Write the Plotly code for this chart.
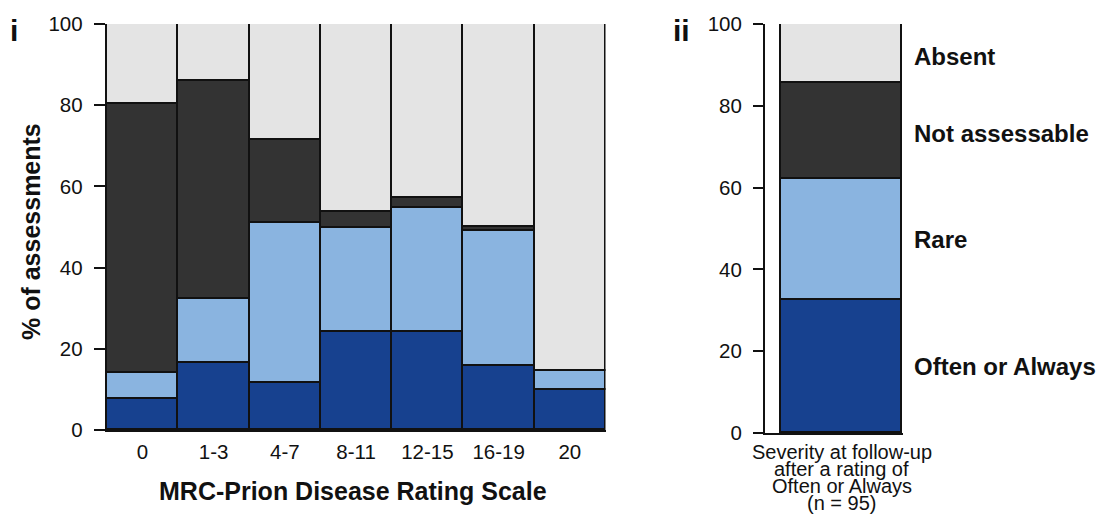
import plotly.graph_objects as go

W, H = 1099, 515

# ---- data ----
categories = ["0", "1-3", "4-7", "8-11", "12-15", "16-19", "20"]
often = [7.7, 16.4, 11.5, 24.2, 24.2, 15.8, 9.8]
rare = [6.3, 15.8, 39.6, 25.6, 30.5, 33.2, 4.7]
not_assessable = [66.3, 53.7, 20.3, 3.8, 2.4, 0.9, 0.0]
absent = [19.7, 14.1, 28.6, 46.4, 42.9, 50.1, 85.7]

series_names = ["Often or Always", "Rare", "Not assessable", "Absent"]
followup_values = [32.6, 29.6, 23.4, 14.4]   # same order as series_names
followup_label = ["Severity at follow-up", "after a rating of", "Often or Always", "(n = 95)"]
y_ticks = [0, 20, 40, 60, 80, 100]

colors = ["#17418f", "#8ab4e0", "#333333", "#e4e4e4"]
FONT = "Liberation Sans, Arial, sans-serif"
INK = "#111111"

def px_x(p):
    return p / W

def px_y(p):
    return (H - p) / H

fig = go.Figure()

left_series = [often, rare, not_assessable, absent]
for name, vals, col in zip(series_names, left_series, colors):
    fig.add_trace(go.Bar(
        x=categories, y=vals, name=name, marker_color=col,
        marker_line_color=INK, marker_line_width=1.6,
        xaxis="x", yaxis="y", showlegend=False,
    ))

for name, v, col in zip(series_names, followup_values, colors):
    fig.add_trace(go.Bar(
        x=[0], y=[v], width=1, name=name, marker_color=col,
        marker_line_color=INK, marker_line_width=1.6,
        xaxis="x2", yaxis="y2", showlegend=False,
    ))

axis_common = dict(showgrid=False, zeroline=False, linecolor=INK, linewidth=2,
                   automargin=False,
                   tickfont=dict(family=FONT, size=20.5, color=INK))

fig.update_layout(
    width=W, height=H,
    margin=dict(l=0, r=0, t=0, b=0, pad=0),
    paper_bgcolor="white", plot_bgcolor="white",
    barmode="stack", bargap=0,
    font=dict(family=FONT, color=INK),
    xaxis=dict(domain=[px_x(106.7), px_x(605.5)], range=[-0.5, 6.5],
               showline=True, ticks="", ticklabelstandoff=2, **axis_common),
    yaxis=dict(domain=[px_y(430), px_y(24)], range=[0, 100], tickvals=y_ticks,
               showline=True, ticks="outside", ticklen=11, tickwidth=2,
               tickcolor=INK, ticklabelstandoff=7, **axis_common),
    xaxis2=dict(domain=[px_x(765), px_x(903)], range=[-0.632, 0.508],
                showline=True, ticks="", showticklabels=False, anchor="y2", **axis_common),
    yaxis2=dict(domain=[px_y(433), px_y(24)], range=[0, 100], tickvals=y_ticks,
                showline=True, ticks="outside", ticklen=10, tickwidth=2,
                tickcolor=INK, ticklabelstandoff=7, anchor="x2", **axis_common),
)

def note(text, x, y, size, xref="paper", yref="paper", xanchor="center", angle=0, yshift=0):
    return dict(text=text, x=x, y=y, xref=xref, yref=yref, xanchor=xanchor,
                yanchor="middle", showarrow=False, textangle=angle, yshift=yshift,
                font=dict(family=FONT, size=size, color=INK))

ann = []
# panel labels
ann.append(note("<b>i</b>", px_x(14), px_y(31), 30))
ann.append(note("<b>ii</b>", px_x(681), px_y(31), 30))
# axis titles
ann.append(note("<b>MRC-Prion Disease Rating Scale</b>", px_x(353), px_y(491), 25))
ann.append(note("<b>% of assessments</b>", px_x(31), px_y(232), 25, angle=-90))
# right bar category label lines
line_y = [452, 469, 486, 503]
for txt, py in zip(followup_label, line_y):
    ann.append(note(txt, 0, px_y(py), 20, xref="x2"))
# series labels at segment midpoints
cum = 0
for name, v in zip(series_names, followup_values):
    mid = cum + v / 2
    cum += v
    ann.append(note(f"<b>{name}</b>", px_x(912), mid, 24, yref="y2", xanchor="left",
                    yshift=-3 if mid > 60 else 0))

fig.update_layout(annotations=ann)
fig.write_html("out.html")
